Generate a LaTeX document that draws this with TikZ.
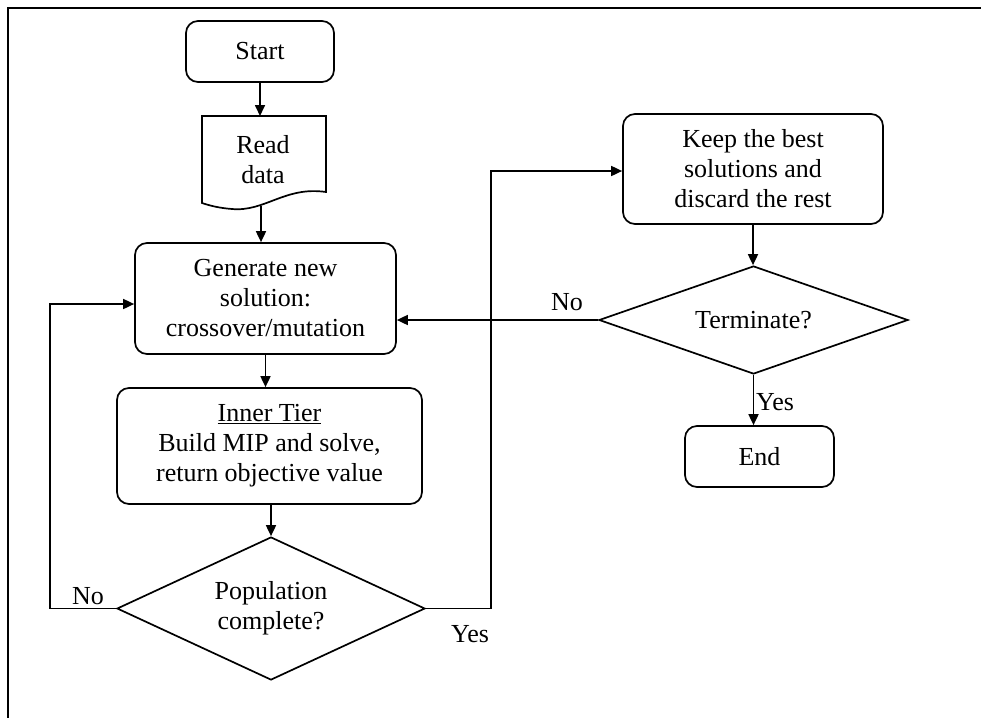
\documentclass[tikz,border=0pt]{standalone}
\usepackage{fontspec}
\setmainfont{Liberation Serif}
\usetikzlibrary{shapes.geometric,arrows.meta}
\newcommand\diagfont{\fontsize{26}{30}\selectfont}
\begin{document}
\begin{tikzpicture}[x=1pt,y=-1pt, line width=1.7pt,
  box/.style={draw, rounded corners=12pt, align=center, inner sep=0pt, font=\diagfont},
  dec/.style={draw, diamond, align=center, inner sep=0pt, font=\diagfont},
  arr/.style={-{Triangle[length=11pt,width=10pt]}},
  lbl/.style={font=\diagfont, inner sep=0pt}]
\useasboundingbox (0,0) rectangle (981,718);
\draw[line width=2pt] (981,8) -- (8,8) -- (8,718);

\node[box, minimum width=148pt, minimum height=61pt] (start) at (260,51.5) {Start};

\node[font=\diagfont, align=center, inner sep=0pt] (read) at (263,160) {Read\\data};
\draw (202,116) -- (326,116) -- (326,192) .. controls (285,186) and (265,212) .. (232,209)
      .. controls (218,208) and (208,205) .. (202,203) -- cycle;
\coordinate (rdt) at (261,116);
\coordinate (rdb) at (261,205.5);

\node[box, minimum width=261pt, minimum height=111pt] (gen) at (265.5,298.5) {Generate new\\solution:\\crossover/mutation};
\node[box, minimum width=305pt, minimum height=116pt] (inner) at (269.5,446) {\underline{Inner Tier}\\Build MIP and solve,\\return objective value};
\node[dec, aspect=2.15, minimum width=308pt, minimum height=143pt] (pop) at (271,608.5) {Population\\complete?};

\node[box, minimum width=260pt, minimum height=110pt] (keep) at (753,169) {Keep the best\\solutions and\\discard the rest};
\node[dec, aspect=2.86, minimum width=309pt, minimum height=108pt] (term) at (753.5,320) {Terminate?};
\node[box, minimum width=149pt, minimum height=61pt] (end) at (759.5,456.5) {End};

\draw[arr] (start.south) -- (start.south |- rdt);
\draw[arr] (rdb) -- (rdb |- gen.north);
\draw[arr] (gen.south) -- (gen.south |- inner.north);
\draw[arr] (inner.south -| pop.north) -- (pop.north);

\coordinate (nol) at (50,304);
\draw[arr] (pop.west) -| (nol) -- (nol -| gen.west);
\node[lbl] (nolbl) at (88,596) {No};

\coordinate (yesr) at (491,171);
\draw[arr] (pop.east) -| (yesr) -- (yesr -| keep.west);
\node[lbl] (yeslbl) at (470,634) {Yes};

\draw[arr] (keep.south) -- (keep.south |- term.north);
\draw[arr] (term.west) -- (term.west -| gen.east);
\node[lbl] (no2lbl) at (567,302) {No};
\draw[arr] (term.south) -- (term.south |- end.north);
\node[lbl] (yes2lbl) at (775,402) {Yes};
\end{tikzpicture}
\end{document}
